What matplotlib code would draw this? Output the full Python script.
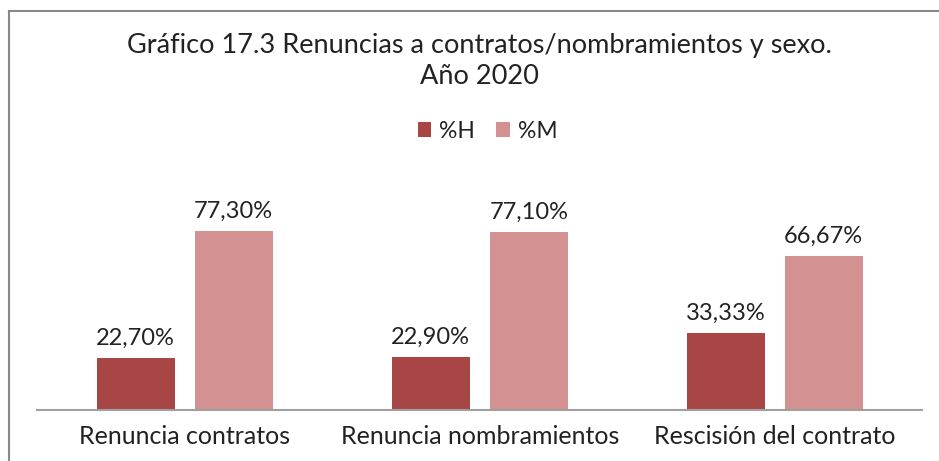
import matplotlib
matplotlib.use("Agg")
import matplotlib.pyplot as plt
from matplotlib.lines import Line2D
import numpy as np

categories = ["Renuncia contratos", "Renuncia nombramientos", "Rescisión del contrato"]
series_names = ["%H", "%M"]
values_h = [22.70, 22.90, 33.33]
values_m = [77.30, 77.10, 66.67]
labels_h = ["22,70%", "22,90%", "33,33%"]
labels_m = ["77,30%", "77,10%", "66,67%"]
title = "Gráfico 17.3 Renuncias a contratos/nombramientos y sexo.\nAño 2020"

col_h = "#A84646"
col_m = "#D39191"
plt.rcParams['font.family'] = ['Lato', 'DejaVu Sans']

fig = plt.figure(figsize=(9.39, 4.61), dpi=100)
ax = fig.add_axes([0.0397, 0.1106, 0.9425, 0.501])

x = np.arange(len(categories))
w = 0.264
off = 0.166
ax.bar(x - off, values_h, w, color=col_h, label=series_names[0])
ax.bar(x + off, values_m, w, color=col_m, label=series_names[1])
for xi, v, t in zip(x, values_h, labels_h):
    ax.text(xi - off, v + 4, t, ha='center', va='bottom', fontsize=17, color='#222222')
for xi, v, t in zip(x, values_m, labels_m):
    ax.text(xi + off, v + 4, t, ha='center', va='bottom', fontsize=17, color='#222222')

ax.set_xlim(-0.5, 2.5)
ax.set_ylim(0, 100)
ax.set_yticks([])
ax.set_xticks(x)
ax.set_xticklabels(categories, fontsize=18, color='#222222')
ax.tick_params(axis='x', length=0, pad=11)
for s in ['top', 'right', 'left']:
    ax.spines[s].set_visible(False)
ax.spines['bottom'].set_color('#A0A0A0')
ax.spines['bottom'].set_linewidth(1.5)
ax.patch.set_alpha(0)

fig.text(0.511, 1 - 61/461, title, ha='center', va='center', fontsize=19.5,
         color='#222222', linespacing=1.28)

leg = fig.legend(loc='center', bbox_to_anchor=(0.519, 1 - 131/461), ncol=2, frameon=False,
                 fontsize=16.5, handlelength=0.6, handleheight=0.6, handletextpad=0.35,
                 columnspacing=0.9)
for t in leg.get_texts():
    t.set_color('#222222')

fig.add_artist(Line2D([9/939, 9/939], [0, 1 - 11/461], transform=fig.transFigure,
                      color='#888888', lw=1.5))
fig.add_artist(Line2D([9/939, 1], [1 - 11/461, 1 - 11/461], transform=fig.transFigure,
                      color='#888888', lw=1.5))

fig.savefig("out.png", dpi=100)
